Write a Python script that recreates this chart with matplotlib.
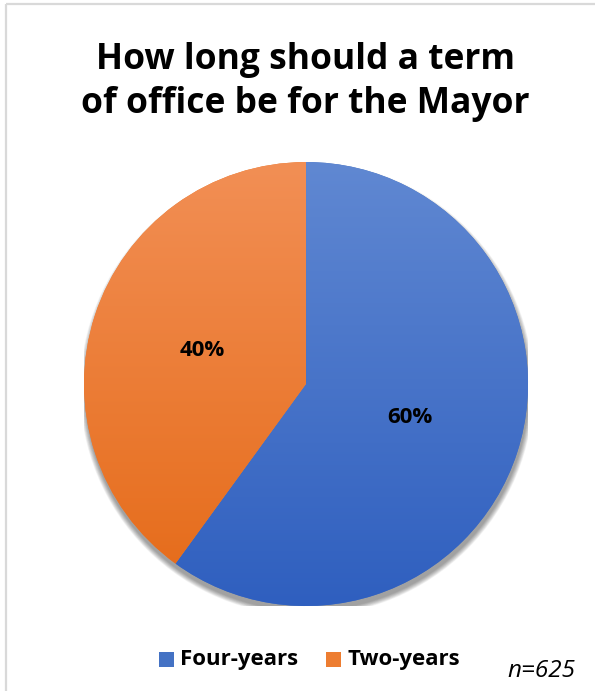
import matplotlib
matplotlib.use("Agg")
from matplotlib import pyplot as plt
from matplotlib.patches import Circle
import matplotlib.colors as mcolors
import numpy as np

title = "How long should a term\nof office be for the Mayor"
labels = ["Four-years", "Two-years"]
shares = [60, 40]
note = "n=625"

# top / bottom colours of each slice's vertical gradient
grad_top = ["#6088D2", "#F28F55"]
grad_bottom = ["#2F5FBF", "#E56A17"]
legend_colors = ["#4472C4", "#ED7D31"]

plt.rcParams['font.family'] = ['Open Sans', 'DejaVu Sans']

fig = plt.figure(figsize=(5.95, 6.91), dpi=100)

# thin frame along the top and left edge
frame = fig.add_axes([0, 0, 1, 1])
frame.set_xlim(0, 595)
frame.set_ylim(691, 0)
frame.axis('off')
frame.plot([6, 595], [4, 4], color='#D9D9D9', lw=1.6, solid_capstyle='butt')
frame.plot([6, 6], [4, 691], color='#D9D9D9', lw=1.6, solid_capstyle='butt')

ax = fig.add_axes([0.1412, 0.1230, 0.7462, 0.6425])
ax.set_xlim(-1, 1)
ax.set_ylim(-1, 1)
ax.axis('off')

# soft drop shadow under the pie
for k in range(12):
    r = 1.0 + 0.002 * k
    ax.add_patch(Circle((0.004, -0.022), r, color='black', alpha=0.035, lw=0, zorder=0))

wedges, texts, autotexts = ax.pie(
    shares, startangle=90, counterclock=False, radius=1,
    autopct='%d%%', pctdistance=0.49,
    colors=legend_colors, wedgeprops=dict(lw=0),
    textprops=dict(fontsize=16, fontweight='bold', color='black'))
ax.set_xlim(-1, 1)
ax.set_ylim(-1, 1)
ax.set_aspect('auto')

for w, c0, c1 in zip(wedges, grad_top, grad_bottom):
    cmap = mcolors.LinearSegmentedColormap.from_list('g', [c1, c0])
    grad = np.linspace(0, 1, 256).reshape(-1, 1)
    im = ax.imshow(grad, extent=(-1, 1, -1, 1), origin='lower', cmap=cmap,
                   aspect='auto', zorder=2, interpolation='bilinear')
    im.set_clip_path(w)
for t in autotexts:
    t.set_zorder(5)

frame.text(305, 82, title, ha='center', va='center', fontsize=25.5,
           fontweight='bold', linespacing=1.32)

# legend
for x0, lab, col in [(159, labels[0], legend_colors[0]), (326, labels[1], legend_colors[1])]:
    frame.add_patch(plt.Rectangle((x0, 652), 15, 15, color=col, lw=0))
    frame.text(x0 + 21, 659, lab, ha='left', va='center', fontsize=16, fontweight='bold')

frame.text(575, 671, note, ha='right', va='center', fontsize=17.5, style='italic')

fig.savefig('out.png', dpi=100)
